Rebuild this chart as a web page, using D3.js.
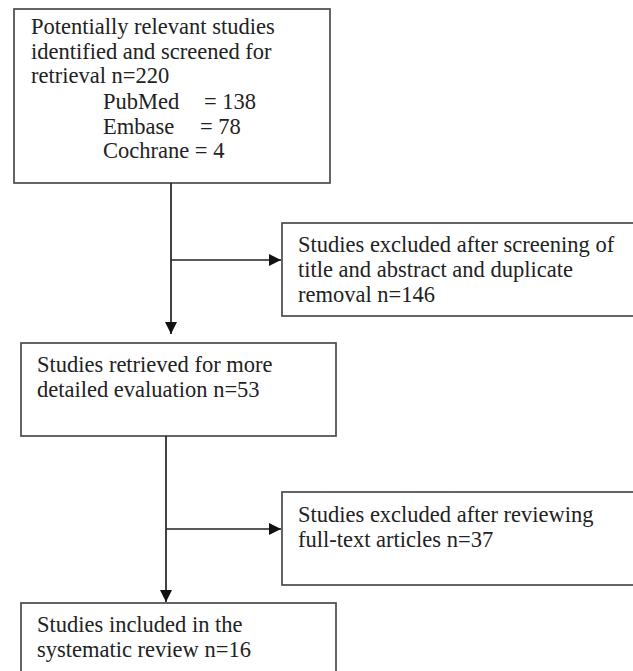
<!DOCTYPE html>
<html>
<head>
<meta charset="utf-8">
<script src="https://cdn.jsdelivr.net/npm/d3@7"></script>
<style>
  html, body { margin: 0; padding: 0; background: #fff; }
  svg { display: block; }
  text { font-family: "Liberation Serif", "Times New Roman", serif; font-size: 22.5px; fill: #222; }
</style>
</head>
<body>
<svg id="chart" width="633" height="671"></svg>
<script>
// ---- data ----
const identifiedLines = ["Potentially relevant studies", "identified and screened for", "retrieval n=220"];
const sources = ["PubMed", "Embase", "Cochrane"];
const sourceCounts = [138, 78, 4];
const excluded1Lines = ["Studies excluded after screening of", "title and abstract and duplicate", "removal n=146"];
const retrievedLines = ["Studies retrieved for more", "detailed evaluation n=53"];
const excluded2Lines = ["Studies excluded after reviewing", "full-text articles n=37"];
const includedLines = ["Studies included in the", "systematic review n=16"];

// ---- layout ----
const svg = d3.select("#chart");
const stroke = "#4a4a4a";
const sw = 1.7;

svg.append("defs").append("marker")
  .attr("id", "arrow").attr("viewBox", "0 0 10 10")
  .attr("refX", 10).attr("refY", 5)
  .attr("markerUnits", "userSpaceOnUse")
  .attr("markerWidth", 12).attr("markerHeight", 12)
  .attr("orient", "auto")
  .append("path").attr("d", "M0,0 L10,5 L0,10 Z").attr("fill", "#111");

function box(x, y, w, h) {
  svg.append("rect").attr("x", x).attr("y", y).attr("width", w).attr("height", h)
    .attr("fill", "none").attr("stroke", stroke).attr("stroke-width", sw);
}
function lines(arr, x, y0, dy) {
  arr.forEach((t, i) => svg.append("text").attr("x", x).attr("y", y0 + i * dy).text(t));
}
function line(x1, y1, x2, y2, arrow) {
  const l = svg.append("line").attr("x1", x1).attr("y1", y1).attr("x2", x2).attr("y2", y2)
    .attr("stroke", "#222").attr("stroke-width", sw);
  if (arrow) l.attr("marker-end", "url(#arrow)");
}

// Box 1
box(14, 9, 316, 174);
lines(identifiedLines, 31, 34, 24.6);
sources.forEach((s, i) => {
  const y = 109 + i * 24.6;
  if (i < 2) {
    svg.append("text").attr("x", 103).attr("y", y).text(s);
    svg.append("text").attr("x", i === 0 ? 204 : 200).attr("y", y).text("= " + sourceCounts[i]);
  } else {
    svg.append("text").attr("x", 103).attr("y", y).text(s + " = " + sourceCounts[i]);
  }
});

// Connector 1
line(171, 183, 171, 334, true);
line(171, 260, 281, 260, true);

// Box 2
box(282, 223, 360, 93);
lines(excluded1Lines, 298, 252, 25);

// Box 3
box(21, 343, 315, 93);
lines(retrievedLines, 37, 372, 25);

// Connector 2
line(166, 436, 166, 602, true);
line(166, 529, 281, 529, true);

// Box 4
box(282, 492, 360, 93);
lines(excluded2Lines, 298, 521.5, 25);

// Box 5
box(21, 603, 315, 80);
lines(includedLines, 37, 632, 25);
</script>
</body>
</html>
